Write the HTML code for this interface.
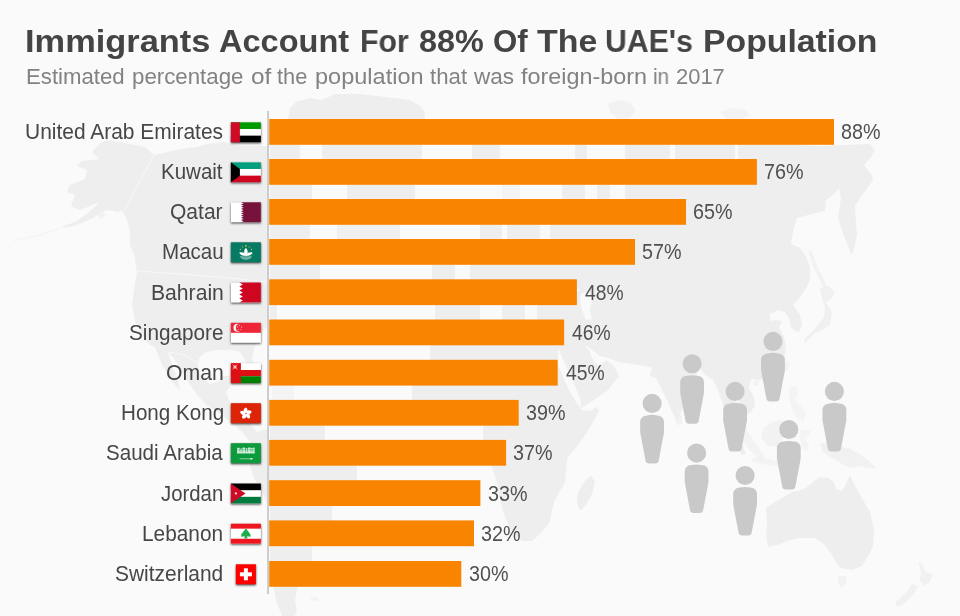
<!DOCTYPE html>
<html>
<head>
<meta charset="utf-8">
<title>Immigrants Account For 88% Of The UAE's Population</title>
<style>
  html, body { margin: 0; padding: 0; }
  body {
    width: 960px; height: 616px; overflow: hidden; position: relative;
    background: #fafafa;
    font-family: "Liberation Sans", sans-serif;
  }
  #art { position: absolute; left: 0; top: 0; width: 960px; height: 616px; }
  h1 {
    position: absolute; left: 0; top: 24px; margin: 0; width: 960px; height: 36px;
    font-size: 31.2px; line-height: 36px; font-weight: bold; color: #444444;
    white-space: nowrap;
  }
  h2 {
    position: absolute; left: 0; top: 63px; margin: 0; width: 960px; height: 28px;
    font-size: 21.8px; line-height: 28px; font-weight: normal; color: #828282;
    white-space: nowrap;
  }
  h1 span, h2 span { position: absolute; top: 0; transform-origin: 0 0; will-change: transform; }
  .row { position: absolute; left: 0; height: 26px; width: 960px; will-change: transform; }
  .row .name {
    position: absolute; top: 0px; height: 26px; line-height: 26px;
    font-size: 21.3px; color: #474747; white-space: nowrap; transform-origin: 0 50%;
  }
  .row .val {
    position: absolute; top: 0px; height: 26px; line-height: 26px;
    font-size: 21.3px; color: #505050; white-space: nowrap;
    transform-origin: 0 50%;
  }
</style>
</head>
<body>
<svg id="art" viewBox="0 0 960 616">
<defs><filter id="sh" x="-20%" y="-20%" width="140%" height="150%"><feGaussianBlur stdDeviation="0.8"/><feOffset dy="0.5"/></filter><filter id="b3"><feGaussianBlur stdDeviation="0.25"/></filter></defs>
<g fill="#eeeeee" stroke="none"><polygon points="99,144 107,140 130,144 145,147 154,155 160,154 175,150 197,147 207,144 225,142 240,146 255,146 270,146 285,146 300,146 300,160 308,172 312,185 312,200 310,212 310,240 316,256 320,264 320,279 308,288 295,296 285,304 277,312 277,320 270,322 264,330 258,340 254,348 252,358 254,366 250,370 246,362 240,352 233,350 228,350 218,350 206,352 199,358 198,368 202,378 210,384 218,382 222,376 230,376 230,386 226,392 230,403 240,414 247,422 254,428 260,437 264,446 267,457 262,457 257,450 250,442 244,434 236,426 228,420 220,414 207,405 197,395 185,377 175,360 168,352 172,365 178,380 180,390 172,382 162,365 155,347 150,345 145,340 135,322 132,305 135,282 137,272 135,260 135,257 130,245 130,232 127,220 122,211 117,212 110,210 104,211 92,218.5 76,225.5 62,228 64,226 76,221.5 88,213 100,202 80,210 71,206 75,195 67,192 70,185 85,179 87,170 77,166 82,161 99,159 92,152"/><polygon points="14,240 40,234 60,227.5 60,229 40,235.5 14,241.5" opacity="0.45"/><polygon points="98,214 104,212 106,216 100,219" opacity="0.7"/><polygon points="288,119 290,108 296,102 310,98 322,100 335,94 360,94 385,97 410,100 420,106 425,113 424,135 422,155 418,175 415,195 408,215 400,232 385,246 372,250 360,240 348,220 345,200 347,185 335,170 325,158 322,145 318,125 305,122"/><polygon points="257,432 264,430 275,428 290,430 305,432 325,434 340,445 350,456 357,468 357,480 345,495 332,512 325,525 315,540 312,555 305,570 298,585 295,600 297,612 294,616 282,616 276,600 273,584 272,566 272,548 272,528 270,510 263,494 254,478 250,466 251,452 254,440"/><polygon points="311,597 318,597 318,601 311,601" opacity="0.5"/><polygon points="418,322 432,316 450,314 468,312 480,314 484,322 498,330 512,336 526,334 540,336 552,338 556,346 552,352 560,370 568,388 576,402 582,410 590,411 597,407 599,411 593,422 586,434 577,446 567,459 566,472 565,482 555,500 552,510 550,522 542,532 532,541 522,541 512,532 505,517 500,500 497,482 492,467 490,450 482,427 476,420 462,418 446,420 430,420 416,414 406,402 402,386 404,370 408,354 412,338"/><polygon points="591,475 595,482 592,494 586,505 580,511 577,503 578,492 584,482"/><polygon points="620,160 630,154 644,156 656,150 668,152 680,146 694,150 706,144 720,138 736,132 750,130 762,136 776,140 797,145 820,146 845,145 870,144 875,150 871,157 864,165 872,175 873,180 866,190 860,198 855,206 856,223 857,235 855,245 852,255 848,246 843,233 838,218 841,198 839,188 835,193 832,196 826,200 825,211 812,214 797,218 793,232 791,244 800,248 806,256 810,268 810,280 805,290 798,300 793,305 800,315 802,325 799,332 795,331 791,327 789,318 785,312 778,310 770,314 770,321 776,320 782,321 779,327 784,337 786,348 784,360 778,370 768,377 760,380 753,379 750,381 749,388 754,397 755,405 751,412 746,415 741,408 737,398 733,404 734,420 737,432 742,444 746,454 742,455 736,446 731,434 728,420 723,405 718,390 713,380 705,375 700,368 696,376 692,388 686,400 681,412 677,421 672,412 667,400 661,388 656,378 650,376 652,368 645,366 632,364 618,362 608,358 600,356 592,350 585,345 590,352 594,362 600,366 606,360 614,366 619,376 608,390 594,400 581,408 580,398 574,384 566,366 558,348 556,340 556,330 558,322 546,322 537,320 537,300 548,296 560,300 572,296 580,290 560,280 550,262 550,240 550,222 562,200 566,186 585,186 590,176 600,170 610,164"/><polygon points="574,150 582,140 592,130 600,124 604,128 596,138 588,148 582,156" opacity="0.8"/><polygon points="608,104 618,100 630,102 636,110 630,118 618,119 610,112" opacity="0.7"/><polygon points="720,112 732,108 746,110 750,116 740,119 726,119" opacity="0.6"/><polygon points="808,250 812,252 818,268 824,280 827,287 824,288 818,277 812,263" opacity="0.7"/><polygon points="820,288 828,286 835,292 830,300 826,302 832,312 830,325 822,330 815,333 808,340 805,343 804,339 810,334 816,327 824,317 825,307 822,298" opacity="0.8"/><polygon points="785,362 788,361 789,367 786,371 784,367" opacity="0.6"/><polygon points="753,381 758,380 759,385 754,386" opacity="0.6"/><polygon points="677,414 682,416 682,424 677,425 675,419" opacity="0.7"/><polygon points="789,388 796,386 798,394 795,400 801,406 806,414 803,422 797,418 792,408 789,398" opacity="0.55"/><polygon points="733,420 740,422 748,432 756,444 764,455 764,461 757,458 748,448 740,437 734,427" opacity="0.6"/><polygon points="752,458 764,458 778,461 790,463 790,467 776,466 762,464 752,462" opacity="0.55"/><polygon points="764,428 772,422 782,420 786,428 783,438 778,446 768,446 761,438" opacity="0.65"/><polygon points="800,430 811,430 809,436 804,438 809,445 807,452 802,448 800,440" opacity="0.55"/><polygon points="820,444 828,442 836,446 848,448 860,454 870,462 876,468 868,468 858,466 850,468 842,464 832,458 823,452" opacity="0.75"/><polygon points="766,508 767,522 766,536 768,547 778,545 787,541 800,538 814,538 824,544 830,552 836,562 841,568 852,570 862,566 868,556 873,546 874,530 870,512 860,495 853,482 850,475 846,484 842,491 836,489 834,482 828,478 820,477 813,482 806,488 798,491 792,492 784,497 775,502"/><polygon points="838,576 846,576 846,584 841,588 838,582" opacity="0.7"/><polygon points="918,562 922,564 926,572 933,574 930,582 924,586 920,580 921,572" opacity="0.75"/><polygon points="912,584 918,586 914,594 906,602 898,607 895,603 902,596 908,590" opacity="0.75"/></g>
<g fill="#fafafa" stroke="none"><polygon points="581,294 589,292 592,300 590,310 592,319 586,320 582,310 580,300"/></g>
<g fill="none" stroke="#fafafa" stroke-width="0.8"><polyline points="154,155 124,211"/><polyline points="137,271 180,274 230,278 268,282"/><polyline points="168,352 185,355 205,368 212,383"/></g>
<rect x="269" y="143.8" width="488" height="16.2" fill="#fafafa"/><rect x="270" y="143.8" width="30" height="16.2" rx="3" fill="#eeeeee" opacity="1"/><rect x="322" y="143.8" width="100" height="16.2" rx="3" fill="#eeeeee" opacity="1"/><rect x="472" y="143.8" width="28" height="16.2" rx="3" fill="#eeeeee" opacity="1"/><rect x="575" y="143.8" width="12" height="16.2" rx="3" fill="#eeeeee" opacity="1"/><rect x="625" y="143.8" width="45" height="16.2" rx="3" fill="#eeeeee" opacity="1"/><rect x="675" y="143.8" width="60" height="16.2" rx="3" fill="#eeeeee" opacity="1"/><rect x="738" y="143.8" width="19" height="16.2" rx="3" fill="#eeeeee" opacity="1"/><rect x="269" y="183.8" width="417" height="16.2" fill="#fafafa"/><rect x="270" y="183.8" width="42" height="16.2" rx="3" fill="#eeeeee" opacity="1"/><rect x="347" y="183.8" width="68" height="16.2" rx="3" fill="#eeeeee" opacity="1"/><rect x="502" y="183.8" width="18" height="16.2" rx="3" fill="#eeeeee" opacity="0.5"/><rect x="562" y="183.8" width="23" height="16.2" rx="3" fill="#eeeeee" opacity="1"/><rect x="597" y="183.8" width="13" height="16.2" rx="3" fill="#eeeeee" opacity="1"/><rect x="625" y="183.8" width="61" height="16.2" rx="3" fill="#eeeeee" opacity="1"/><rect x="269" y="223.8" width="366" height="16.2" fill="#fafafa"/><rect x="270" y="223.8" width="40" height="16.2" rx="3" fill="#eeeeee" opacity="1"/><rect x="337" y="223.8" width="63" height="16.2" rx="3" fill="#eeeeee" opacity="0.8"/><rect x="480" y="223.8" width="22" height="16.2" rx="3" fill="#eeeeee" opacity="1"/><rect x="507" y="223.8" width="33" height="16.2" rx="3" fill="#eeeeee" opacity="1"/><rect x="550" y="223.8" width="85" height="16.2" rx="3" fill="#eeeeee" opacity="1"/><rect x="269" y="263.8" width="308" height="16.5" fill="#fafafa"/><rect x="270" y="263.8" width="50" height="16.5" rx="3" fill="#eeeeee" opacity="1"/><rect x="432" y="263.8" width="23" height="16.5" rx="3" fill="#eeeeee" opacity="1"/><rect x="470" y="263.8" width="107" height="16.5" rx="3" fill="#eeeeee" opacity="1"/><rect x="269" y="304.1" width="295" height="16.4" fill="#fafafa"/><rect x="270" y="304.1" width="7" height="16.4" rx="3" fill="#eeeeee" opacity="1"/><rect x="435" y="304.1" width="45" height="16.4" rx="3" fill="#eeeeee" opacity="1"/><rect x="502" y="304.1" width="23" height="16.4" rx="3" fill="#eeeeee" opacity="1"/><rect x="537" y="304.1" width="27" height="16.4" rx="3" fill="#eeeeee" opacity="1"/><rect x="269" y="344.3" width="289" height="16.5" fill="#fafafa"/><rect x="430" y="344.3" width="128" height="16.5" rx="3" fill="#eeeeee" opacity="1"/><rect x="269" y="384.6" width="250" height="16.3" fill="#fafafa"/><rect x="272" y="384.6" width="22" height="16.3" rx="3" fill="#eeeeee" opacity="0.5"/><rect x="412" y="384.6" width="107" height="16.3" rx="3" fill="#eeeeee" opacity="1"/><rect x="269" y="424.7" width="237" height="16.2" fill="#fafafa"/><rect x="270" y="424.7" width="55" height="16.2" rx="3" fill="#eeeeee" opacity="1"/><rect x="483" y="424.7" width="23" height="16.2" rx="3" fill="#eeeeee" opacity="1"/><rect x="269" y="464.7" width="211" height="16.5" fill="#fafafa"/><rect x="269" y="464.7" width="88" height="16.5" rx="3" fill="#eeeeee" opacity="1"/><rect x="269" y="505.0" width="205" height="16.4" fill="#fafafa"/><rect x="270" y="505.0" width="62" height="16.4" rx="3" fill="#eeeeee" opacity="1"/><rect x="269" y="545.2" width="192" height="16.8" fill="#fafafa"/><rect x="270" y="545.2" width="42" height="16.8" rx="3" fill="#eeeeee" opacity="1"/>
<g fill="#c9c9c9"><circle cx="652.1" cy="403.4" r="9.55"/><path d="M640.2 422.4 Q640.2 415.8 647.2 415.4 Q652.1 414.2 657.0 415.4 Q664.0 415.8 664.0 422.4 V432.4 L658.7 460.4 Q658.2 463.4 655.2 463.4 H649.0 Q646.0 463.4 645.5 460.4 L640.2 432.4Z"/><circle cx="692.1" cy="363.8" r="9.55"/><path d="M680.2 382.8 Q680.2 376.2 687.2 375.8 Q692.1 374.6 697.0 375.8 Q704.0 376.2 704.0 382.8 V392.8 L698.7 420.8 Q698.2 423.8 695.2 423.8 H689.0 Q686.0 423.8 685.5 420.8 L680.2 392.8Z"/><circle cx="735.1" cy="391.4" r="9.55"/><path d="M723.2 410.4 Q723.2 403.8 730.2 403.4 Q735.1 402.2 740.0 403.4 Q747.0 403.8 747.0 410.4 V420.4 L741.7 448.4 Q741.2 451.4 738.2 451.4 H732.0 Q729.0 451.4 728.5 448.4 L723.2 420.4Z"/><circle cx="773.0" cy="341.4" r="9.55"/><path d="M761.1 360.4 Q761.1 353.8 768.1 353.4 Q773.0 352.2 777.9 353.4 Q784.9 353.8 784.9 360.4 V370.4 L779.6 398.4 Q779.1 401.4 776.1 401.4 H769.9 Q766.9 401.4 766.4 398.4 L761.1 370.4Z"/><circle cx="834.4" cy="391.4" r="9.55"/><path d="M822.5 410.4 Q822.5 403.8 829.5 403.4 Q834.4 402.2 839.3 403.4 Q846.3 403.8 846.3 410.4 V420.4 L841.0 448.4 Q840.5 451.4 837.5 451.4 H831.3 Q828.3 451.4 827.8 448.4 L822.5 420.4Z"/><circle cx="696.6" cy="453.1" r="9.55"/><path d="M684.7 472.1 Q684.7 465.5 691.7 465.1 Q696.6 463.9 701.5 465.1 Q708.5 465.5 708.5 472.1 V482.1 L703.2 510.1 Q702.7 513.1 699.7 513.1 H693.5 Q690.5 513.1 690.0 510.1 L684.7 482.1Z"/><circle cx="745.1" cy="475.5" r="9.55"/><path d="M733.2 494.5 Q733.2 487.9 740.2 487.5 Q745.1 486.3 750.0 487.5 Q757.0 487.9 757.0 494.5 V504.5 L751.7 532.5 Q751.2 535.5 748.2 535.5 H742.0 Q739.0 535.5 738.5 532.5 L733.2 504.5Z"/><circle cx="788.8" cy="429.5" r="9.55"/><path d="M776.9 448.5 Q776.9 441.9 783.9 441.5 Q788.8 440.3 793.7 441.5 Q800.7 441.9 800.7 448.5 V458.5 L795.4 486.5 Q794.9 489.5 791.9 489.5 H785.7 Q782.7 489.5 782.2 486.5 L776.9 458.5Z"/></g>
<rect x="267.2" y="111" width="1.7" height="483" fill="#c6c6c6"/>
<g fill="#f88400"><rect x="269.2" y="119.0" width="564.8" height="25.8"/><rect x="269.2" y="159.0" width="487.7" height="25.8"/><rect x="269.2" y="199.0" width="416.8" height="25.8"/><rect x="269.2" y="239.0" width="365.8" height="25.8"/><rect x="269.2" y="279.3" width="307.7" height="25.8"/><rect x="269.2" y="319.5" width="294.9" height="25.8"/><rect x="269.2" y="359.8" width="288.5" height="25.8"/><rect x="269.2" y="399.9" width="249.5" height="25.8"/><rect x="269.2" y="439.9" width="236.9" height="25.8"/><rect x="269.2" y="480.2" width="211.2" height="25.8"/><rect x="269.2" y="520.4" width="204.8" height="25.8"/><rect x="269.2" y="561.0" width="192.1" height="25.8"/></g>
<g transform="translate(230.9 122.3)"><rect x="0" y="0" width="30" height="20" filter="url(#sh)" fill="#444"/><rect width="30" height="20" fill="#fff"/><rect x="0" y="0" width="30" height="6.67" fill="#009a00"/><rect x="0" y="13.33" width="30" height="6.67" fill="#000"/><rect width="9" height="20" fill="#ce0a26"/></g><g transform="translate(230.9 162.3)"><rect x="0" y="0" width="30" height="20" filter="url(#sh)" fill="#444"/><rect width="30" height="20" fill="#fff"/><rect width="30" height="6.67" fill="#009e7a"/><rect y="13.33" width="30" height="6.67" fill="#ce0620"/><polygon points="0,0 9,6.67 9,13.33 0,20" fill="#000"/></g><g transform="translate(230.9 202.3)"><rect x="0" y="0" width="30" height="20" filter="url(#sh)" fill="#444"/><rect width="30" height="20" fill="#fff"/><polygon points="30,0 10,0 12.8,1.11 10,2.22 12.8,3.33 10,4.44 12.8,5.56 10,6.67 12.8,7.78 10,8.89 12.8,10.0 10,11.11 12.8,12.22 10,13.33 12.8,14.44 10,15.56 12.8,16.67 10,17.78 12.8,18.89 10,20.0 30,20.0" fill="#76123c"/></g><g transform="translate(230.9 242.3)"><rect x="0" y="0" width="30" height="20" filter="url(#sh)" fill="#444"/><rect width="30" height="20" fill="#067a62"/><polygon points="15.0,2.3 15.29,3.2 16.24,3.2 15.47,3.75 15.76,4.65 15.0,4.1 14.24,4.65 14.53,3.75 13.76,3.2 14.71,3.2" fill="#f7df1e"/><polygon points="11.7,3.8 11.9,4.42 12.56,4.42 12.03,4.81 12.23,5.43 11.7,5.04 11.17,5.43 11.37,4.81 10.84,4.42 11.5,4.42" fill="#f7df1e"/><polygon points="18.3,3.8 18.5,4.42 19.16,4.42 18.63,4.81 18.83,5.43 18.3,5.04 17.77,5.43 17.97,4.81 17.44,4.42 18.1,4.42" fill="#f7df1e"/><polygon points="9.4,6.2 9.6,6.82 10.26,6.82 9.73,7.21 9.93,7.83 9.4,7.44 8.87,7.83 9.07,7.21 8.54,6.82 9.2,6.82" fill="#f7df1e"/><polygon points="20.6,6.2 20.8,6.82 21.46,6.82 20.93,7.21 21.13,7.83 20.6,7.44 20.07,7.83 20.27,7.21 19.74,6.82 20.4,6.82" fill="#f7df1e"/>
<path d="M15 5.8 C17.3 8 17.1 11 15.9 12.8 L14.1 12.8 C12.9 11 12.7 8 15 5.8Z" fill="#fff"/>
<path d="M8.3 10.5 C10.6 9.4 13.2 10.2 14.6 12.2 L14.6 13.5 C11.6 13.7 9.1 12.6 8.3 10.5Z" fill="#fff"/>
<path d="M21.7 10.5 C19.4 9.4 16.8 10.2 15.4 12.2 L15.4 13.5 C18.4 13.7 20.9 12.6 21.7 10.5Z" fill="#fff"/>
<rect x="13.6" y="11.6" width="2.8" height="1.9" fill="#fff"/>
<path d="M8.9 13.9 H21.1 C20.3 15.9 18 17.5 15 17.5 C12 17.5 9.7 15.9 8.9 13.9Z" fill="#fff" opacity="0.5"/>
<path d="M10.4 14.6 H19.6 M11.6 15.8 H18.4" stroke="#067a62" stroke-width="0.4" fill="none" opacity="0.7"/></g><g transform="translate(230.9 282.6)"><rect x="0" y="0" width="30" height="20" filter="url(#sh)" fill="#444"/><rect width="30" height="20" fill="#fff"/><polygon points="30,0 8.4,0 12,2.0 8.4,4.0 12,6.0 8.4,8.0 12,10.0 8.4,12.0 12,14.0 8.4,16.0 12,18.0 8.4,20.0 30,20.0" fill="#ce0620"/></g><g transform="translate(230.9 322.8)"><rect x="0" y="0" width="30" height="20" filter="url(#sh)" fill="#444"/><rect width="30" height="20" fill="#fff"/><rect width="30" height="10" fill="#ee2536"/>
<circle cx="6.6" cy="5" r="4.0" fill="#fff"/><circle cx="8.6" cy="5" r="3.7" fill="#ee2536"/><polygon points="8.5,1.95 8.67,2.47 9.21,2.47 8.77,2.79 8.94,3.31 8.5,2.99 8.06,3.31 8.23,2.79 7.79,2.47 8.33,2.47" fill="#fff"/><polygon points="10.8,3.55 10.97,4.07 11.51,4.07 11.07,4.39 11.24,4.91 10.8,4.59 10.36,4.91 10.53,4.39 10.09,4.07 10.63,4.07" fill="#fff"/><polygon points="10.0,6.15 10.17,6.67 10.71,6.67 10.27,6.99 10.44,7.51 10.0,7.19 9.56,7.51 9.73,6.99 9.29,6.67 9.83,6.67" fill="#fff"/><polygon points="7.2,6.15 7.37,6.67 7.91,6.67 7.47,6.99 7.64,7.51 7.2,7.19 6.76,7.51 6.93,6.99 6.49,6.67 7.03,6.67" fill="#fff"/><polygon points="6.4,3.55 6.57,4.07 7.11,4.07 6.67,4.39 6.84,4.91 6.4,4.59 5.96,4.91 6.13,4.39 5.69,4.07 6.23,4.07" fill="#fff"/></g><g transform="translate(230.9 363.1)"><rect x="0" y="0" width="30" height="20" filter="url(#sh)" fill="#444"/><rect width="30" height="20" fill="#fff"/><rect y="6.9" width="30" height="6.2" fill="#dc0f15"/><rect y="13.1" width="30" height="6.9" fill="#008000"/><rect width="10" height="20" fill="#dc0f15"/>
<g stroke="#fff" stroke-width="0.8" fill="none" stroke-linecap="round" opacity="0.8"><path d="M2 1.9 L6.2 5.9 M6.2 1.9 L2 5.9" stroke-width="0.7"/><path d="M2.7 3.9 H5.5" stroke-width="1.2"/><path d="M4.1 2.2 V5.6" stroke-width="0.8"/></g></g><g transform="translate(230.9 403.2)"><rect x="0" y="0" width="30" height="20" filter="url(#sh)" fill="#444"/><rect width="30" height="20" fill="#de2408"/><path d="M0 -0.3 C-3.0 -1.0 -3.2 -4.4 -0.2 -6.1 C2.0 -5.2 2.3 -2.2 0 -0.3Z" fill="#fff" transform="translate(15 10.3) rotate(0)"/><path d="M0 -0.3 C-3.0 -1.0 -3.2 -4.4 -0.2 -6.1 C2.0 -5.2 2.3 -2.2 0 -0.3Z" fill="#fff" transform="translate(15 10.3) rotate(72)"/><path d="M0 -0.3 C-3.0 -1.0 -3.2 -4.4 -0.2 -6.1 C2.0 -5.2 2.3 -2.2 0 -0.3Z" fill="#fff" transform="translate(15 10.3) rotate(144)"/><path d="M0 -0.3 C-3.0 -1.0 -3.2 -4.4 -0.2 -6.1 C2.0 -5.2 2.3 -2.2 0 -0.3Z" fill="#fff" transform="translate(15 10.3) rotate(216)"/><path d="M0 -0.3 C-3.0 -1.0 -3.2 -4.4 -0.2 -6.1 C2.0 -5.2 2.3 -2.2 0 -0.3Z" fill="#fff" transform="translate(15 10.3) rotate(288)"/><circle cx="15" cy="10.3" r="0.8" fill="#e8604c"/></g><g transform="translate(230.9 443.2)"><rect x="0" y="0" width="30" height="20" filter="url(#sh)" fill="#444"/><rect width="30" height="20" fill="#0c9b3c"/>
<g fill="#fff" opacity="0.8" filter="url(#b3)"><rect x="6.2" y="4.6" width="2.6" height="5.6" rx="0.6"/><rect x="9.3" y="5.2" width="1.7" height="5" rx="0.5"/><rect x="11.5" y="4.4" width="2.7" height="5.8" rx="0.6"/><rect x="14.7" y="5" width="1.9" height="5.2" rx="0.5"/><rect x="17.1" y="4.4" width="2.7" height="5.8" rx="0.6"/><rect x="20.3" y="4.6" width="1.5" height="5.6" rx="0.5"/><rect x="22.2" y="4.4" width="1.6" height="5.8" rx="0.5"/><rect x="6.4" y="8.6" width="17" height="1.4"/></g>
<g fill="#0c9b3c" opacity="0.5"><rect x="6" y="6.3" width="18" height="0.6"/></g>
<rect x="8.7" y="15.3" width="12" height="0.7" fill="#fff" opacity="0.7"/><rect x="19.4" y="14.9" width="2.4" height="1.5" rx="0.6" fill="#fff" opacity="0.75"/></g><g transform="translate(230.9 483.5)"><rect x="0" y="0" width="30" height="20" filter="url(#sh)" fill="#444"/><rect width="30" height="20" fill="#fff"/><rect width="30" height="6.67" fill="#000"/><rect y="13.33" width="30" height="6.67" fill="#007a3d"/><polygon points="0,0 14.6,10 0,20" fill="#ce0a26"/><polygon points="5.0,8.5 5.33,9.32 6.17,9.06 5.73,9.83 6.46,10.33 5.59,10.47 5.65,11.35 5.0,10.75 4.35,11.35 4.41,10.47 3.54,10.33 4.27,9.83 3.83,9.06 4.67,9.32" fill="#fff"/></g><g transform="translate(230.9 523.7)"><rect x="0" y="0" width="30" height="20" filter="url(#sh)" fill="#444"/><rect width="30" height="20" fill="#fff"/><rect width="30" height="4.95" fill="#ee161f"/><rect y="15.05" width="30" height="4.95" fill="#ee161f"/>
<path d="M15 5.1 C16 5.6 16.6 6.4 16.6 7 C17.6 7.4 18.2 8.4 18.1 9.1 C19.2 9.7 19.8 10.8 19.5 11.6 C20 12.2 19.9 12.9 19.4 13 L16.3 12.6 L16.2 13.4 L16.7 14.7 L13.3 14.7 L13.8 13.4 L13.7 12.6 L10.6 13 C10.1 12.9 10 12.2 10.5 11.6 C10.2 10.8 10.8 9.7 11.9 9.1 C11.8 8.4 12.4 7.4 13.4 7 C13.4 6.4 14 5.6 15 5.1Z" fill="#1fae4b"/></g><g transform="translate(230.9 564.3)"><rect x="5" y="0" width="20" height="20" filter="url(#sh)" fill="#444"/><rect x="5" width="20" height="20" fill="#ff0000"/><rect x="13" y="4" width="4" height="12" fill="#fff"/><rect x="9" y="8" width="12" height="4" fill="#fff"/></g>
</svg>

<h1><span style="left:25.1px;transform:scaleX(1.103)">Immigrants</span> <span style="left:219.0px;transform:scaleX(1.043)">Account</span> <span style="left:359.8px;transform:scaleX(0.971)">For</span> <span style="left:419.0px;transform:scaleX(1.038)">88%</span> <span style="left:493.3px;transform:scaleX(1.000)">Of</span> <span style="left:537.3px;transform:scaleX(1.087)">The</span> <span style="left:605.4px;transform:scaleX(0.970)">UAE's</span> <span style="left:702.8px;transform:scaleX(1.083)">Population</span></h1>
<h2><span style="left:26.3px;transform:scaleX(1.018)">Estimated</span> <span style="left:132.3px;transform:scaleX(1.022)">percentage</span> <span style="left:250.6px;transform:scaleX(1.118)">of</span> <span style="left:276.7px;transform:scaleX(1.000)">the</span> <span style="left:314.9px;transform:scaleX(1.079)">population</span> <span style="left:430.0px;transform:scaleX(1.019)">that</span> <span style="left:474.0px;transform:scaleX(1.034)">was</span> <span style="left:520.7px;transform:scaleX(1.072)">foreign-born</span> <span style="left:653.0px;transform:scaleX(0.953)">in</span> <span style="left:675.7px;transform:scaleX(1.006)">2017</span></h2>

<div class="row" style="top:119px"><span class="name" style="left:24.7px;transform:scaleX(0.984)">United Arab Emirates</span><span class="val" style="left:841.3px;transform:scaleX(0.927)">88%</span></div>
<div class="row" style="top:159px"><span class="name" style="left:160.8px;transform:scaleX(0.963)">Kuwait</span><span class="val" style="left:764.2px;transform:scaleX(0.927)">76%</span></div>
<div class="row" style="top:199px"><span class="name" style="left:170.2px;transform:scaleX(0.987)">Qatar</span><span class="val" style="left:693.3px;transform:scaleX(0.927)">65%</span></div>
<div class="row" style="top:239px"><span class="name" style="left:161.6px;transform:scaleX(0.966)">Macau</span><span class="val" style="left:642.3px;transform:scaleX(0.927)">57%</span></div>
<div class="row" style="top:280px"><span class="name" style="left:151.1px;transform:scaleX(0.992)">Bahrain</span><span class="val" style="left:585.1px;transform:scaleX(0.905)">48%</span></div>
<div class="row" style="top:320px"><span class="name" style="left:129.1px;transform:scaleX(0.973)">Singapore</span><span class="val" style="left:572.3px;transform:scaleX(0.905)">46%</span></div>
<div class="row" style="top:360px"><span class="name" style="left:165.8px;transform:scaleX(0.995)">Oman</span><span class="val" style="left:565.9px;transform:scaleX(0.905)">45%</span></div>
<div class="row" style="top:400px"><span class="name" style="left:120.8px;transform:scaleX(0.968)">Hong Kong</span><span class="val" style="left:526.0px;transform:scaleX(0.927)">39%</span></div>
<div class="row" style="top:440px"><span class="name" style="left:105.6px;transform:scaleX(0.966)">Saudi Arabia</span><span class="val" style="left:513.4px;transform:scaleX(0.927)">37%</span></div>
<div class="row" style="top:481px"><span class="name" style="left:161.3px;transform:scaleX(0.956)">Jordan</span><span class="val" style="left:487.7px;transform:scaleX(0.927)">33%</span></div>
<div class="row" style="top:521px"><span class="name" style="left:142.3px;transform:scaleX(0.978)">Lebanon</span><span class="val" style="left:481.3px;transform:scaleX(0.927)">32%</span></div>
<div class="row" style="top:561px"><span class="name" style="left:115.3px;transform:scaleX(0.983)">Switzerland</span><span class="val" style="left:468.6px;transform:scaleX(0.927)">30%</span></div>

</body>
</html>
